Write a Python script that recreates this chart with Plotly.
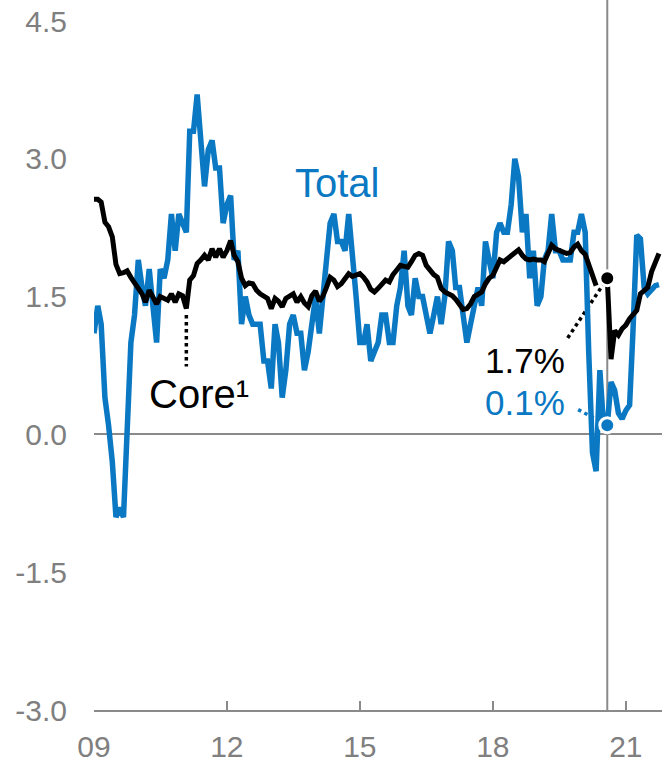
import pandas as pd
import plotly.graph_objects as go

# Monthly y/y inflation, Jan 2009 onward (%)
months = pd.date_range("2009-01-01", periods=154, freq="MS")

total = [
    1.1, 1.4, 1.2, 0.4, 0.1, -0.3, -0.9, -0.8, -0.9, 0.1, 1.0, 1.3,   # 2009
    1.9, 1.6, 1.4, 1.8, 1.4, 1.0, 1.8, 1.7, 1.9, 2.4, 2.0, 2.4,       # 2010
    2.3, 2.2, 3.3, 3.3, 3.7, 3.1, 2.7, 3.1, 3.2, 2.9, 2.9, 2.3,       # 2011
    2.5, 2.6, 1.9, 2.0, 1.2, 1.5, 1.3, 1.2, 1.2, 1.2, 0.8, 0.8,       # 2012
    0.5, 1.2, 1.0, 0.4, 0.7, 1.2, 1.3, 1.1, 1.1, 0.7, 0.9, 1.2,       # 2013
    1.5, 1.1, 1.5, 2.0, 2.3, 2.4, 2.1, 2.1, 2.0, 2.4, 2.0, 1.5,       # 2014
    1.0, 1.0, 1.2, 0.8, 0.9, 1.0, 1.3, 1.3, 1.0, 1.0, 1.4, 1.6,       # 2015
    2.0, 1.4, 1.3, 1.7, 1.5, 1.5, 1.3, 1.1, 1.3, 1.5, 1.2, 1.5,       # 2016
    2.1, 2.0, 1.6, 1.6, 1.3, 1.0, 1.2, 1.4, 1.6, 1.4, 2.1, 1.9,       # 2017
    1.7, 2.2, 2.3, 2.2, 2.2, 2.5, 3.0, 2.8, 2.2, 2.4, 1.7, 2.0,       # 2018
    1.4, 1.5, 1.9, 2.0, 2.4, 2.0, 2.0, 1.9, 1.9, 1.9, 2.2, 2.2,       # 2019
    2.4, 2.2, 0.9, -0.2, -0.4, 0.7, 0.1, 0.1,                         # 2020 Jan-Aug
    0.57, 0.48, 0.23, 0.17, 0.26, 0.32, 1.13, 2.17, 2.13, 1.60,
    1.53, 1.58, 1.62, 1.63,
]

core = [
    2.56, 2.56, 2.53, 2.31, 2.26, 2.15, 1.85, 1.75, 1.76, 1.78, 1.71, 1.64,
    1.59, 1.53, 1.44, 1.57, 1.48, 1.42, 1.50, 1.48, 1.46, 1.53, 1.44, 1.53,
    1.51, 1.37, 1.68, 1.73, 1.86, 1.90, 1.95, 1.90, 2.02, 1.93, 2.02, 1.93,
    2.00, 2.11, 1.95, 1.88, 1.70, 1.62, 1.65, 1.64, 1.57, 1.53, 1.50, 1.48,
    1.37, 1.48, 1.45, 1.39, 1.48, 1.51, 1.53, 1.44, 1.50, 1.43, 1.39, 1.51,
    1.56, 1.45, 1.50, 1.60, 1.71, 1.68, 1.61, 1.64, 1.70, 1.75, 1.72, 1.73,
    1.75, 1.71, 1.66, 1.58, 1.55, 1.59, 1.64, 1.68, 1.66, 1.74, 1.79, 1.84,
    1.83, 1.82, 1.88, 1.95, 1.97, 1.95, 1.84, 1.78, 1.74, 1.71, 1.59, 1.55,
    1.53, 1.51, 1.47, 1.42, 1.36, 1.37, 1.42, 1.50, 1.52, 1.55, 1.64, 1.70,
    1.73, 1.82, 1.90, 1.88, 1.91, 1.95, 1.97, 2.01, 1.95, 1.91, 1.90, 1.91,
    1.90, 1.90, 1.88, 1.99, 2.06, 2.02, 2.00, 1.99, 1.97, 1.98, 2.04, 2.07,
    2.00, 1.96, 1.85, 1.74, 1.62, None, None, 1.7,
    0.82, 1.13, 1.08, 1.15, 1.19, 1.26, 1.31, 1.35, 1.53, 1.57,
    1.60, 1.77, 1.86, 1.97,
]

# Highlighted month and its labels
mark_idx = 139
mark_total_label = "0.1%"
mark_core_label = "1.7%"

y_ticks = [-3.0, -1.5, 0.0, 1.5, 3.0, 4.5]
y_tick_text = ["-3.0", "-1.5", "0.0", "1.5", "3.0", "4.5"]
x_ticks = ["2009-01-01", "2012-01-01", "2015-01-01", "2018-01-01", "2021-01-01"]
x_tick_text = ["09", "12", "15", "18", "21"]

BLUE = "#0a78c2"
GRAY = "#8a8a8a"
TICK_GRAY = "#7f7f7f"
FONT = "Liberation Sans, Arial, sans-serif"

fig = go.Figure()

fig.add_trace(go.Scatter(
    x=months, y=total, mode="lines",
    line=dict(color=BLUE, width=5.5), hoverinfo="skip", showlegend=False,
))
fig.add_trace(go.Scatter(
    x=months, y=core, mode="lines", connectgaps=False,
    line=dict(color="black", width=5), hoverinfo="skip", showlegend=False,
))

mark_x = months[mark_idx]
fig.add_trace(go.Scatter(
    x=[mark_x, mark_x], y=[core[mark_idx], total[mark_idx]], mode="markers",
    marker=dict(size=15, color=["black", BLUE], line=dict(color="white", width=3)),
    hoverinfo="skip", showlegend=False,
))

# vertical marker line at the highlighted month
fig.add_shape(type="line", xref="x", yref="paper", x0=mark_x, x1=mark_x, y0=0, y1=1,
              line=dict(color=GRAY, width=2), layer="below")

# dotted leaders from the value labels to the dots
fig.add_shape(type="line", xref="x", yref="y",
              x0=pd.Timestamp("2019-09-10"), y0=1.05, x1=mark_x, y1=core[mark_idx],
              line=dict(color="black", width=3.5, dash="dot"), layer="below")
fig.add_shape(type="line", xref="x", yref="y",
              x0=pd.Timestamp("2019-12-05"), y0=0.27, x1=mark_x, y1=total[mark_idx],
              line=dict(color=BLUE, width=3.5, dash="dot"), layer="below")

# dotted pointer from the core label up to the series
core_dip = months[25]
fig.add_shape(type="line", xref="x", yref="y",
              x0=core_dip, y0=1.30, x1=core_dip, y1=0.74,
              line=dict(color="black", width=3.5, dash="dot"), layer="below")

fig.add_annotation(x=pd.Timestamp("2014-07-01"), y=2.74, text="Total", showarrow=False,
                   font=dict(family=FONT, size=40, color=BLUE), xanchor="center", yanchor="middle")
fig.add_annotation(x=pd.Timestamp("2011-05-20"), y=0.44, text="Core¹", showarrow=False,
                   font=dict(family=FONT, size=40, color="black"), xanchor="center", yanchor="middle")
fig.add_annotation(x=pd.Timestamp("2019-09-05"), y=0.81, text=mark_core_label, showarrow=False,
                   font=dict(family=FONT, size=35, color="black"), xanchor="right", yanchor="middle")
fig.add_annotation(x=pd.Timestamp("2019-09-05"), y=0.35, text=mark_total_label, showarrow=False,
                   font=dict(family=FONT, size=35, color=BLUE), xanchor="right", yanchor="middle")

fig.update_layout(
    width=662, height=763,
    margin=dict(l=94, r=0, t=0, b=53),
    paper_bgcolor="white", plot_bgcolor="white",
    font=dict(family=FONT, color=TICK_GRAY),
)
fig.update_xaxes(
    type="date", range=["2009-01-01", "2021-10-26"], automargin=False,
    tickvals=x_ticks, ticktext=x_tick_text,
    showgrid=False, zeroline=False,
    showline=True, linecolor=GRAY, linewidth=2,
    ticks="inside", ticklen=9, tickwidth=2, tickcolor=GRAY,
    tickfont=dict(family=FONT, size=30, color=TICK_GRAY),
    ticklabelstandoff=9,
)
fig.update_yaxes(
    range=[-3.0, 4.729], automargin=False,
    tickvals=y_ticks, ticktext=y_tick_text,
    showgrid=False, showline=False, ticks="",
    zeroline=True, zerolinecolor=GRAY, zerolinewidth=2,
    tickfont=dict(family=FONT, size=30, color=TICK_GRAY),
    ticklabelstandoff=26,
)

fig.write_html("out.html")
